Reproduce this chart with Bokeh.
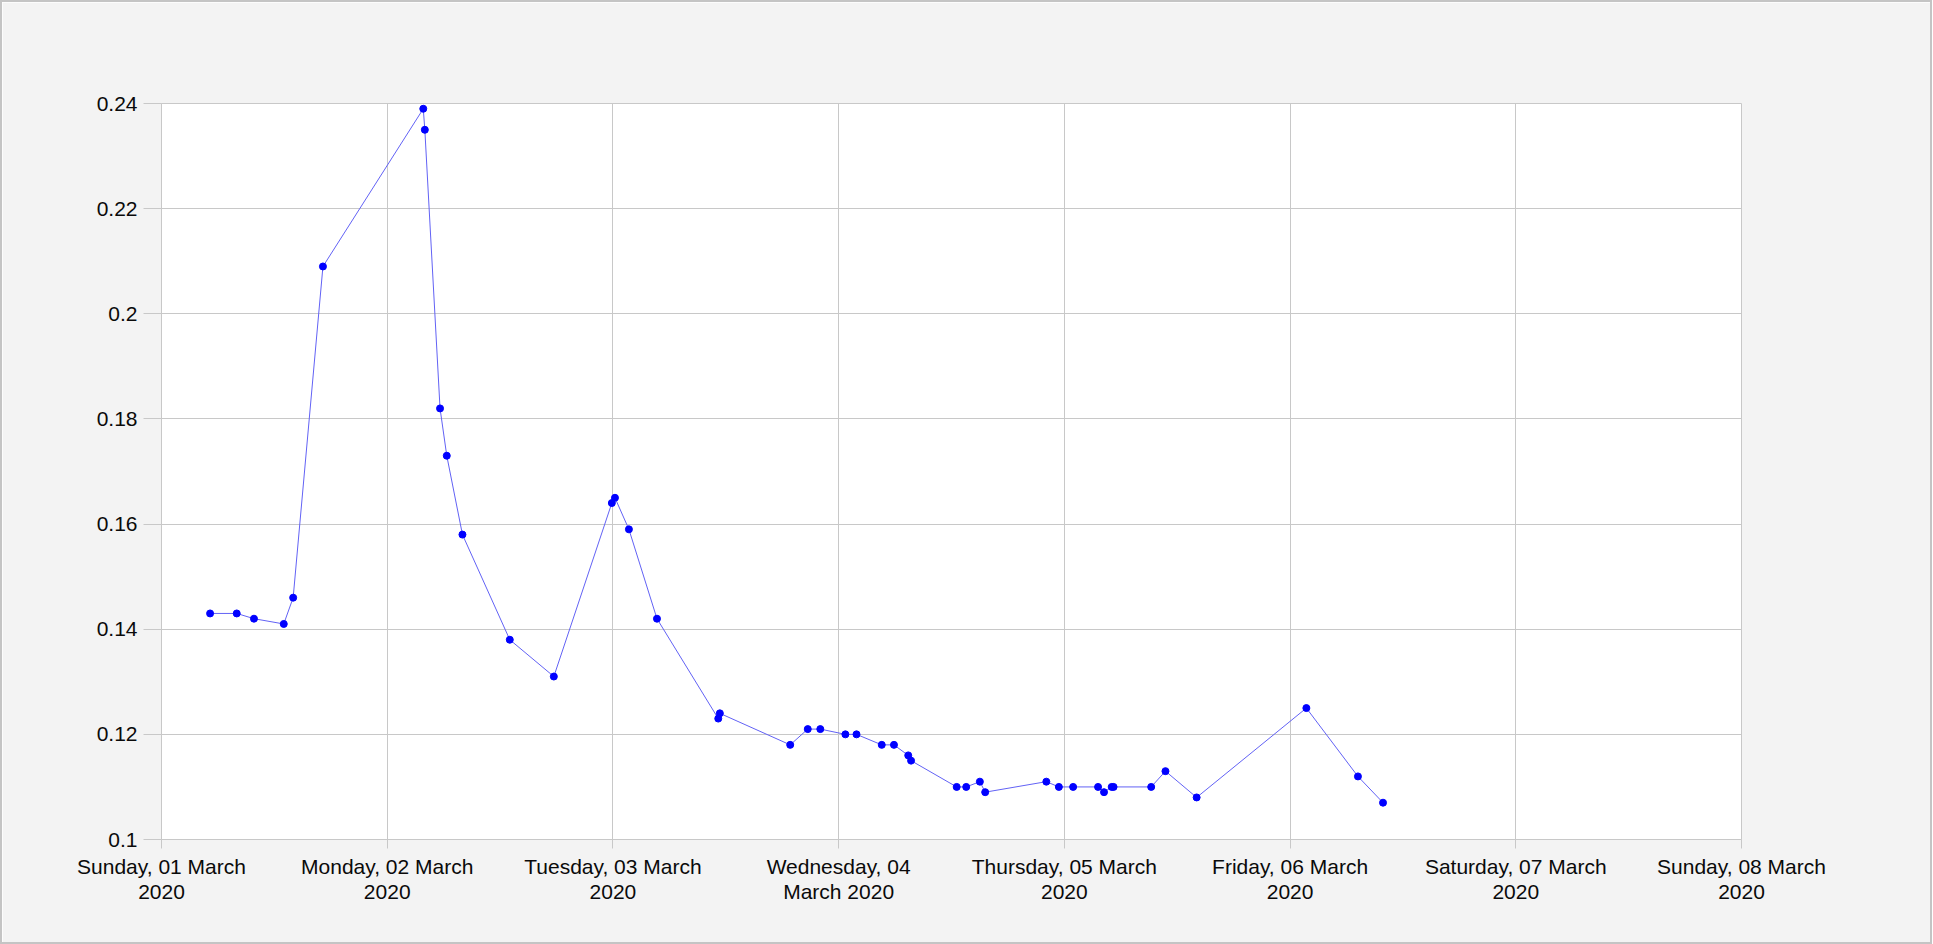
from datetime import datetime
from bokeh.plotting import figure
from bokeh.models import FixedTicker, ColumnDataSource
from bokeh.embed import file_html
from bokeh.resources import INLINE

times = [
    "2020-03-01 05:10", "2020-03-01 08:00", "2020-03-01 09:50", "2020-03-01 13:00",
    "2020-03-01 14:00", "2020-03-01 17:10", "2020-03-02 03:50", "2020-03-02 04:00",
    "2020-03-02 05:37", "2020-03-02 06:20", "2020-03-02 08:00", "2020-03-02 13:02",
    "2020-03-02 17:43", "2020-03-02 23:53", "2020-03-03 00:13", "2020-03-03 01:42",
    "2020-03-03 04:41", "2020-03-03 11:12", "2020-03-03 11:22", "2020-03-03 18:51",
    "2020-03-03 20:43", "2020-03-03 22:03", "2020-03-04 00:43", "2020-03-04 01:54",
    "2020-03-04 04:35", "2020-03-04 05:53", "2020-03-04 07:24", "2020-03-04 07:42",
    "2020-03-04 12:33", "2020-03-04 13:34", "2020-03-04 15:01", "2020-03-04 15:35",
    "2020-03-04 22:05", "2020-03-04 23:25", "2020-03-05 00:56", "2020-03-05 03:35",
    "2020-03-05 04:13", "2020-03-05 05:02", "2020-03-05 05:14", "2020-03-05 09:14",
    "2020-03-05 10:45", "2020-03-05 14:04", "2020-03-06 01:44", "2020-03-06 07:13",
    "2020-03-06 09:53",
]
values = [
    0.143, 0.143, 0.142, 0.141, 0.146, 0.209, 0.239, 0.235,
    0.182, 0.173, 0.158, 0.138, 0.131, 0.164, 0.165, 0.159,
    0.142, 0.123, 0.124, 0.118, 0.121, 0.121, 0.120, 0.120,
    0.118, 0.118, 0.116, 0.115, 0.110, 0.110, 0.111, 0.109,
    0.111, 0.110, 0.110, 0.110, 0.109, 0.110, 0.110, 0.110,
    0.113, 0.108, 0.125, 0.112, 0.107,
]
x_tick_dates = ["2020-03-01", "2020-03-02", "2020-03-03", "2020-03-04",
                "2020-03-05", "2020-03-06", "2020-03-07", "2020-03-08"]
x_tick_labels = ["Sunday, 01 March\n2020", "Monday, 02 March\n2020",
                 "Tuesday, 03 March\n2020", "Wednesday, 04\nMarch 2020",
                 "Thursday, 05 March\n2020", "Friday, 06 March\n2020",
                 "Saturday, 07 March\n2020", "Sunday, 08 March\n2020"]
y_ticks = [0.1, 0.12, 0.14, 0.16, 0.18, 0.2, 0.22, 0.24]
y_tick_labels = ["0.1", "0.12", "0.14", "0.16", "0.18", "0.2", "0.22", "0.24"]

EPOCH = datetime(1970, 1, 1)
def ms(s):
    fmt = "%Y-%m-%d %H:%M" if " " in s else "%Y-%m-%d"
    return (datetime.strptime(s, fmt) - EPOCH).total_seconds() * 1000.0

xs = [ms(t) for t in times]
xticks = [ms(d) for d in x_tick_dates]

src = ColumnDataSource(data=dict(x=xs, y=values))

p = figure(
    output_backend="svg", toolbar_location=None,
    width=1928, height=940,
    frame_width=1580, frame_height=736,
    min_border_left=159, min_border_right=189,
    min_border_top=101, min_border_bottom=103,
    x_axis_type="datetime",
    x_range=(xticks[0], xticks[-1]), y_range=(0.1, 0.24),
    background_fill_color="white", border_fill_color="#f3f3f3",
)
p.outline_line_color = "#c8c8c8"
p.outline_line_width = 1

p.line("x", "y", source=src, line_color="#6262f5", line_width=1)
p.scatter("x", "y", source=src, size=7, fill_color="#0000ff", line_color="#0000ff")

xa = p.xaxis[0]
xa.ticker = FixedTicker(ticks=xticks)
xa.major_label_overrides = {t: l for t, l in zip(xticks, x_tick_labels)}
ya = p.yaxis[0]
ya.ticker = FixedTicker(ticks=y_ticks)
ya.major_label_overrides = {t: l for t, l in zip(y_ticks, y_tick_labels)}

for ax in (xa, ya):
    ax.axis_line_color = "#c8c8c8"
    ax.major_tick_line_color = "#c8c8c8"
    ax.minor_tick_line_color = None
    ax.major_tick_in = 0
    ax.major_label_text_font = "Liberation Sans"
    ax.major_label_text_font_size = "21px"
    ax.major_label_text_color = "#0a0a0a"
    ax.major_label_standoff = 6
    ax.major_label_text_line_height = 1.12
xa.major_tick_out = 9
ya.major_tick_out = 18

p.xgrid.grid_line_color = "#c8c8c8"
p.ygrid.grid_line_color = "#c8c8c8"
p.xgrid.grid_line_alpha = 1
p.ygrid.grid_line_alpha = 1

p.styles = {"border": "2px solid #c4c4c4", "box-sizing": "border-box"}

open("out.html", "w").write(file_html(p, INLINE))
